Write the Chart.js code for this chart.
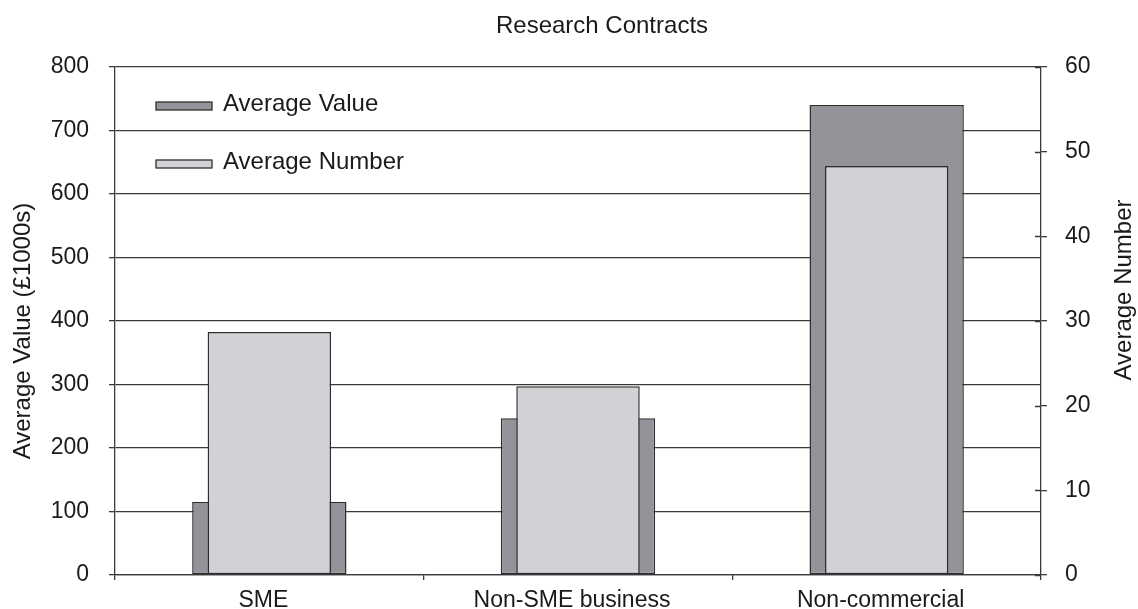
<!DOCTYPE html>
<html>
<head>
<meta charset="utf-8">
<title>Research Contracts</title>
<script src="https://cdn.jsdelivr.net/npm/chart.js@4.4.0/dist/chart.umd.min.js"></script>
<style>
  html, body { margin: 0; padding: 0; background: #fff; }
  #wrap { width: 1138px; height: 609px; }
</style>
</head>
<body>
<div id="wrap"><canvas id="contracts" width="1138" height="609"></canvas></div>
<script>
// Research contracts by client type
const CATEGORIES = ["SME", "Non-SME business", "Non-commercial"];
const AVG_VALUE = [115, 247, 740];      // £1000s, left axis
const AVG_NUMBER = [28.7, 22.3, 48.3];  // contracts, right axis
const VALUE_TICKS = { min: 0, max: 800, step: 100 };
const NUMBER_TICKS = { min: 0, max: 60, step: 10 };

const FONT = "'Liberation Sans', Arial, sans-serif";
const INK = "#1a1a1a";
const LINE = "#3a3a3a";
const DARK = "#939499";
const LIGHT = "#d1d2d6";

// title, rotated axis titles and right-axis inner tick marks
const decorPlugin = {
  id: "decor",
  afterDraw(chart) {
    const ctx = chart.ctx;
    const area = chart.chartArea;
    ctx.save();
    ctx.fillStyle = INK;
    ctx.font = "24px " + FONT;
    ctx.textAlign = "center";
    ctx.textBaseline = "alphabetic";
    ctx.fillText("Research Contracts", 602, 33);

    ctx.textBaseline = "middle";
    ctx.save();
    ctx.translate(23, 331);
    ctx.rotate(-Math.PI / 2);
    ctx.fillText("Average Value (£1000s)", 0, 0);
    ctx.restore();

    ctx.save();
    ctx.translate(1124, 290);
    ctx.rotate(-Math.PI / 2);
    ctx.fillText("Average Number", 0, 0);
    ctx.restore();

    // ticks on the right axis cross the axis line
    const y1 = chart.scales.y1;
    ctx.strokeStyle = LINE;
    ctx.lineWidth = 1.3;
    ctx.beginPath();
    y1.ticks.forEach(t => {
      const py = Math.round(y1.getPixelForValue(t.value)) + 0.5;
      ctx.moveTo(area.right - 6, py);
      ctx.lineTo(area.right, py);
    });
    ctx.stroke();
    ctx.restore();
  }
};

// legend sits inside the plot, top left
const legendPlugin = {
  id: "insideLegend",
  afterDraw(chart) {
    const ctx = chart.ctx;
    ctx.save();
    ctx.font = "24px " + FONT;
    ctx.textAlign = "left";
    ctx.textBaseline = "alphabetic";
    [0, 1].forEach((i, k) => {
      const ds = chart.data.datasets[i];
      const top = 102 + k * 58;
      ctx.fillStyle = ds.backgroundColor;
      ctx.fillRect(156, top, 56, 8);
      ctx.strokeStyle = ds.borderColor;
      ctx.lineWidth = 1.3;
      ctx.strokeRect(156, top, 56, 8);
      ctx.fillStyle = INK;
      ctx.fillText(ds.label, 223, top + 9);
    });
    ctx.restore();
  }
};

new Chart(document.getElementById("contracts"), {
  type: "bar",
  data: {
    labels: CATEGORIES,
    datasets: [
      {
        label: "Average Value",
        data: AVG_VALUE,
        yAxisID: "y",
        backgroundColor: DARK,
        borderColor: "#2e2e2e",
        borderWidth: 1.5,
        borderSkipped: false,
        grouped: false,
        categoryPercentage: 1,
        barPercentage: 0.5,
        order: 1
      },
      {
        label: "Average Number",
        data: AVG_NUMBER,
        yAxisID: "y1",
        backgroundColor: LIGHT,
        borderColor: "#2e2e2e",
        borderWidth: 1.5,
        borderSkipped: false,
        grouped: false,
        categoryPercentage: 1,
        barPercentage: 0.4,
        order: 0
      }
    ]
  },
  options: {
    responsive: false,
    animation: false,
    layout: { padding: { top: 67, left: 0, right: 0, bottom: 0 } },
    plugins: {
      legend: { display: false },
      title: { display: false },
      tooltip: { enabled: false }
    },
    scales: {
      x: {
        grid: { offset: true, drawOnChartArea: false, tickLength: 5, color: LINE, lineWidth: 1.3 },
        border: { color: LINE, width: 1.3 },
        ticks: {
          font: { family: FONT, size: 23 }, color: INK, padding: 7,
          labelOffset: -6, maxRotation: 0, minRotation: 0
        },
        afterFit(s) { s.height = 34; }
      },
      y: {
        position: "left",
        min: VALUE_TICKS.min,
        max: VALUE_TICKS.max,
        grid: { color: LINE, lineWidth: 1.3, tickLength: 6 },
        border: { color: LINE, width: 1.3 },
        ticks: { stepSize: VALUE_TICKS.step, padding: 20, font: { family: FONT, size: 23 }, color: INK },
        afterFit(s) { s.width = 115; }
      },
      y1: {
        position: "right",
        min: NUMBER_TICKS.min,
        max: NUMBER_TICKS.max,
        grid: { drawOnChartArea: false, color: LINE, lineWidth: 1.3, tickLength: 6 },
        border: { color: LINE, width: 1.3 },
        ticks: { stepSize: NUMBER_TICKS.step, padding: 18, font: { family: FONT, size: 23 }, color: INK },
        afterFit(s) { s.width = 97; }
      }
    }
  },
  plugins: [decorPlugin, legendPlugin]
});
</script>
</body>
</html>
